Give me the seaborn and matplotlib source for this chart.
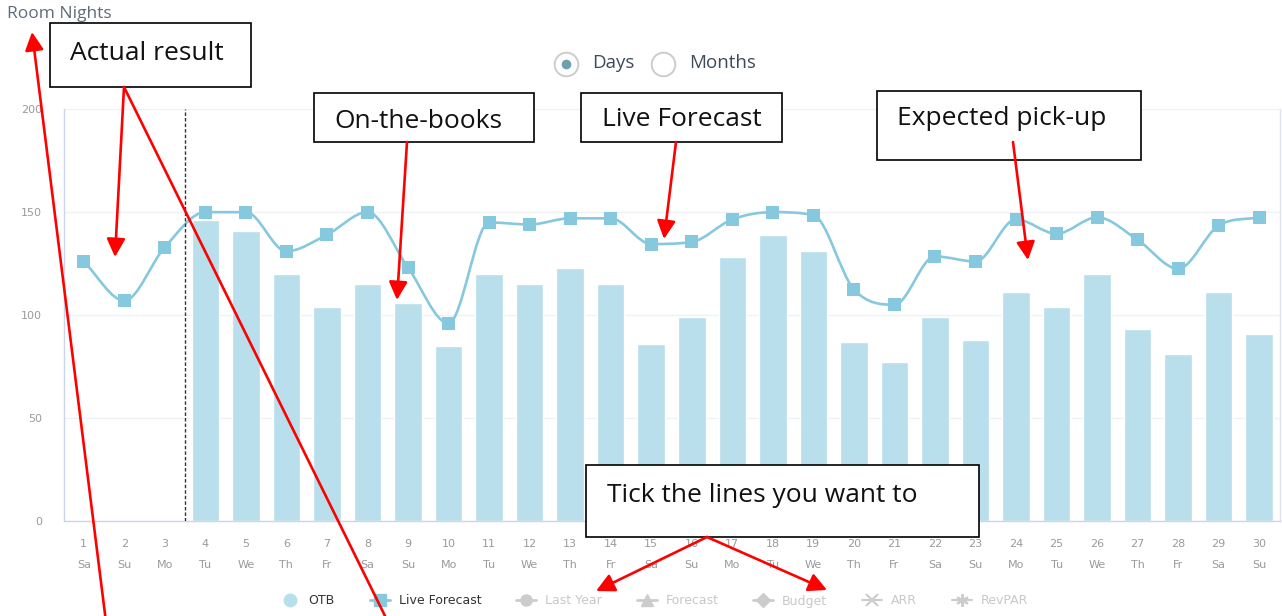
import numpy as np
import matplotlib.pyplot as plt
import seaborn as sns
from matplotlib.path import Path
from matplotlib.patches import PathPatch, Rectangle, FancyArrowPatch
from matplotlib.lines import Line2D
from matplotlib.transforms import Bbox, TransformedBbox

# datos
days = list(range(1, 31))
weekdays = ["Sa", "Su", "Mo", "Tu", "We", "Th", "Fr", "Sa", "Su", "Mo",
            "Tu", "We", "Th", "Fr", "Sa", "Su", "Mo", "Tu", "We", "Th",
            "Fr", "Sa", "Su", "Mo", "Tu", "We", "Th", "Fr", "Sa", "Su"]
otb = [np.nan, np.nan, np.nan, 146, 141, 120, 104, 115, 106, 85,
       120, 115, 123, 115, 86, 99, 128, 139, 131, 87,
       77, 99, 88, 111, 104, 120, 93, 81, 111, 91]
live_forecast = [126, 107, 133, 150, 150, 131, 139, 150, 123, 96,
                 145, 144, 147, 147, 134.5, 135.5, 146.5, 150, 148.5, 112.5,
                 105, 128.5, 126, 146.5, 139.5, 147.5, 136.5, 122.5, 143.5, 147.5]
legend_labels = ["OTB", "Live Forecast", "Last Year", "Forecast", "Budget", "ARR", "RevPAR"]
y_ticks = [0, 50, 100, 150, 200]

W, H = 1282, 616
BAR_C = "#b8dfeb"
LINE_C = "#86c8dd"
AXIS_C = "#ccd6eb"
RED = "#ff0000"


def px(x, y):
    return x / W, 1 - y / H


def smooth_path(xs, ys):
    # curva suave monotona (Bezier cubica por tramo, sin sobrepasar los puntos)
    x = np.asarray(xs, float)
    y = np.asarray(ys, float)
    d = np.diff(y) / np.diff(x)
    m = np.zeros_like(y)
    m[0], m[-1] = d[0], d[-1]
    for i in range(1, len(y) - 1):
        if d[i - 1] * d[i] > 0:
            s = (d[i - 1] + d[i]) / 2
            lim = 3 * min(abs(d[i - 1]), abs(d[i]))
            m[i] = np.sign(s) * min(abs(s), lim)
    verts = [(x[0], y[0])]
    codes = [Path.MOVETO]
    for i in range(len(x) - 1):
        h = (x[i + 1] - x[i]) / 3
        verts += [(x[i] + h, y[i] + m[i] * h),
                  (x[i + 1] - h, y[i + 1] - m[i + 1] * h),
                  (x[i + 1], y[i + 1])]
        codes += [Path.CURVE4] * 3
    return Path(verts, codes)


sns.set_style("white")
plt.rcParams["font.family"] = ["DejaVu Sans"]

fig = plt.figure(figsize=(W / 100, H / 100), dpi=100)
ax = fig.add_axes([63.5 / W, 1 - 520.7 / H, 1216 / W, 411.4 / H])

sns.barplot(x=days, y=otb, order=days, ax=ax, color=BAR_C, saturation=1,
            width=0.68, errorbar=None, zorder=2)

pos = np.arange(len(days))
ax.add_patch(PathPatch(smooth_path(pos, live_forecast), fill=False, edgecolor=LINE_C,
                       lw=1.9, zorder=3, capstyle="round", joinstyle="round"))
sns.scatterplot(x=pos, y=live_forecast, ax=ax, marker="s", s=88, color=LINE_C,
                edgecolor="none", linewidth=0, zorder=4, legend=False)

ax.axvline(2.5, color="#333333", lw=1, ls=(0, (2.5, 1.5)), zorder=5)

ax.set_xlim(-0.5, 29.5)
ax.set_ylim(0, 200)
ax.set_yticks(y_ticks)
ax.set_yticklabels([str(v) for v in y_ticks])
ax.set_xticks(pos)
ax.set_xticklabels([f"{d}\n{w}" for d, w in zip(days, weekdays)])
ax.set_xticks(np.arange(-0.5, 30, 1), minor=True)
ax.set_xlabel("")
ax.set_ylabel("")
ax.grid(axis="y", color="#eef2f7", lw=1, zorder=0)
ax.set_axisbelow(True)

ax.tick_params(axis="x", which="major", length=0, pad=13, labelsize=8, labelcolor="#9a9a9a")
ax.tick_params(axis="x", which="minor", length=9.4, width=1, color=AXIS_C)
ax.tick_params(axis="y", length=9.4, width=1, color=AXIS_C, pad=6,
               labelsize=8, labelcolor="#9a9a9a")
for lbl in ax.get_xticklabels():
    lbl.set_linespacing(2.45)

ax.spines["top"].set_visible(False)
ax.spines["left"].set_color(AXIS_C)
ax.spines["bottom"].set_color(AXIS_C)
ax.spines["right"].set_color("#dde3f1")
for s in ["left", "bottom", "right"]:
    ax.spines[s].set_linewidth(1)

# leyenda
grey = "#cccccc"
handles = [
    Line2D([], [], ls="none", marker="o", ms=9, color=BAR_C),
    Line2D([], [], color=LINE_C, lw=2, marker="s", ms=9),
    Line2D([], [], color=grey, lw=2, marker="o", ms=8),
    Line2D([], [], color=grey, lw=2, marker="^", ms=8),
    Line2D([], [], color=grey, lw=2, marker="D", ms=7),
    Line2D([], [], color=grey, lw=1.5, marker="x", ms=8, mew=1.5),
    Line2D([], [], color=grey, lw=1.5, marker=(6, 2, 0), ms=9, mew=1.5),
]
leg = fig.legend(handles, legend_labels, loc="center", ncol=7, frameon=False,
                 bbox_to_anchor=px(654, 601), fontsize=9, handlelength=1.6,
                 handletextpad=0.7, columnspacing=2.8)
for i, t in enumerate(leg.get_texts()):
    t.set_color("#333333" if i < 2 else "#c8c8c8")

# titulo y selector
fig.text(*px(7, 14), "Room Nights", fontsize=12.5, color="#5f6b7a",
         family="Open Sans", va="center", ha="left")
fig.add_artist(Line2D([px(566, 64)[0]], [px(566, 64)[1]], marker="o", ms=17,
                      mfc="white", mec="#cccccc", mew=1.4, transform=fig.transFigure))
fig.add_artist(Line2D([px(566, 64)[0]], [px(566, 64)[1]], marker="o", ms=7,
                      mfc="#6f9fae", mec="none", transform=fig.transFigure))
fig.add_artist(Line2D([px(663, 64)[0]], [px(663, 64)[1]], marker="o", ms=17,
                      mfc="white", mec="#cccccc", mew=1.4, transform=fig.transFigure))
fig.text(*px(592, 63), "Days", fontsize=13.5, color="#3d4a5a", family="Open Sans",
         va="center", ha="left")
fig.text(*px(689, 63), "Months", fontsize=13.5, color="#3d4a5a", family="Open Sans",
         va="center", ha="left")

# cajas de anotacion
boxes = [
    ("Actual result", 50, 23, 251, 87, 70, 53),
    ("On-the-books", 314, 93, 534, 142, 334, 121),
    ("Live Forecast", 581, 93, 782, 142, 602, 120),
    ("Expected pick-up", 877, 91, 1141, 160, 897, 119),
    ("Tick the lines you want to", 586, 465, 979, 537, 607, 495),
]
for text, x0, y0, x1, y1, tx, ty in boxes:
    fx0, fy1 = px(x0, y1)
    fig.add_artist(Rectangle((fx0, fy1), (x1 - x0) / W, (y1 - y0) / H,
                             transform=fig.transFigure, facecolor="white",
                             edgecolor="black", lw=1.2, zorder=10))
    fig.text(*px(tx, ty), text, fontsize=19, family="Open Sans", color="#111111",
             va="center", ha="left", zorder=11)
# segunda linea cortada por el area de texto de la caja
see = fig.text(*px(607, 543), "see", fontsize=19, family="Open Sans", color="#111111",
               va="baseline", ha="left", zorder=11)
see.set_clip_box(TransformedBbox(Bbox.from_extents(586 / W, 1 - 528 / H, 979 / W, 1 - 465 / H),
                                 fig.transFigure))
see.set_clip_on(True)
fx0, fy0 = px(587, 536.3)
fig.add_artist(Rectangle((fx0, fy0), 391 / W, 8.3 / H, transform=fig.transFigure,
                         facecolor="white", edgecolor="none", zorder=11.5))

# flechas rojas
arrows = [
    ((124, 87), (115, 257), True),
    ((124, 87), (388, 622), False),
    ((106, 622), (32, 32), True),
    ((407, 142), (397, 300), True),
    ((676, 142), (664, 239), True),
    ((1013, 142), (1028, 260), True),
    ((707, 537), (596, 591), True),
    ((707, 537), (827, 590), True),
]
for a, b, head in arrows:
    style = "-|>,head_length=0.55,head_width=0.28" if head else "-"
    fig.add_artist(FancyArrowPatch(px(*a), px(*b), transform=fig.transFigure,
                                   arrowstyle=style, mutation_scale=20, color=RED,
                                   lw=1.9, shrinkA=0, shrinkB=0, zorder=12))

fig.savefig("out.png", dpi=100)
